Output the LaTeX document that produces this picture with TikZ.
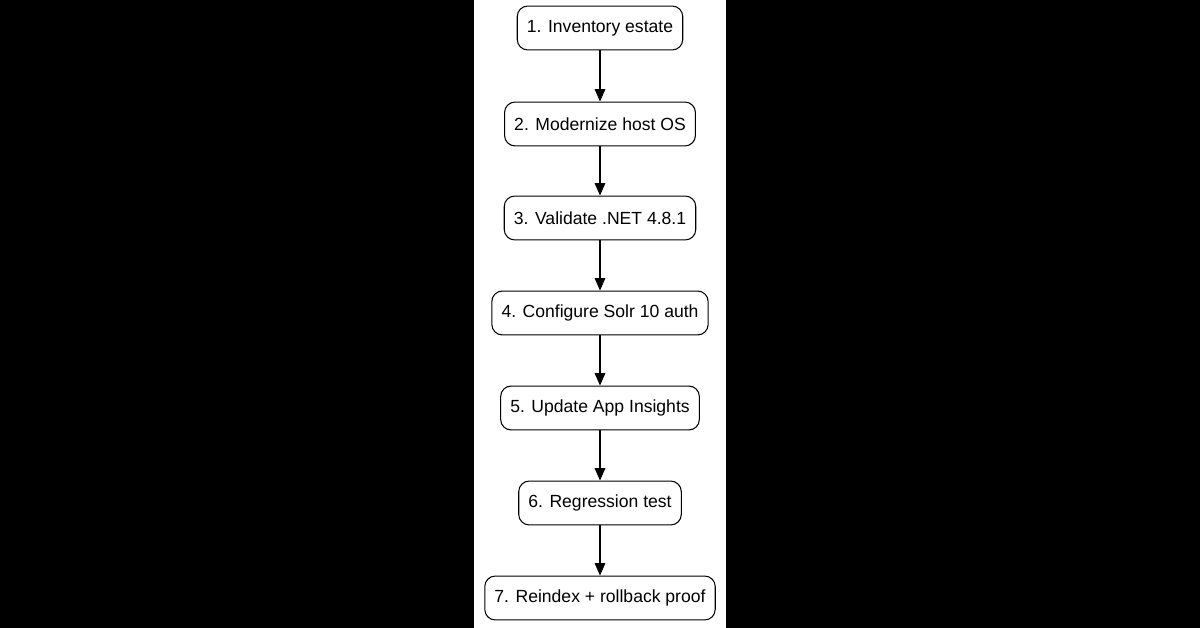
\documentclass[tikz,border=0pt]{standalone}
\usepackage{fontspec}
\setmainfont{Liberation Sans}
\usetikzlibrary{positioning,arrows.meta}
\tikzset{
  stage/.style={draw, line width=0.6pt, rounded corners=6pt, fill=white,
    minimum height=25pt, inner xsep=5.5pt, font=\fontsize{10}{12}\selectfont},
  flow/.style={-{Triangle[length=7pt,width=6pt]}, line width=0.6pt}
}
\begin{document}
\begin{tikzpicture}[x=0.02cm, y=-0.02cm]
    % Background
    \fill[black] (0,0) rectangle (1200,628);
    \fill[white] (474,0) rectangle (726,628);
    \useasboundingbox (0,0) rectangle (1200,628);

    % Steps
    \node[stage] (s1) at (600, 28) {1. Inventory estate};
    \node[stage] (s2) at (600,124) {2. Modernize host OS};
    \node[stage] (s3) at (600,218) {3. Validate .NET 4.8.1};
    \node[stage] (s4) at (600,313) {4. Configure Solr 10 auth};
    \node[stage] (s5) at (600,408) {5. Update App Insights};
    \node[stage] (s6) at (600,503) {6. Regression test};
    \node[stage] (s7) at (600,598) {7. Reindex + rollback proof};

    % Connectors
    \foreach \a/\b in {s1/s2,s2/s3,s3/s4,s4/s5,s5/s6,s6/s7}
        \draw[flow] (\a) -- (\b);
\end{tikzpicture}
\end{document}
